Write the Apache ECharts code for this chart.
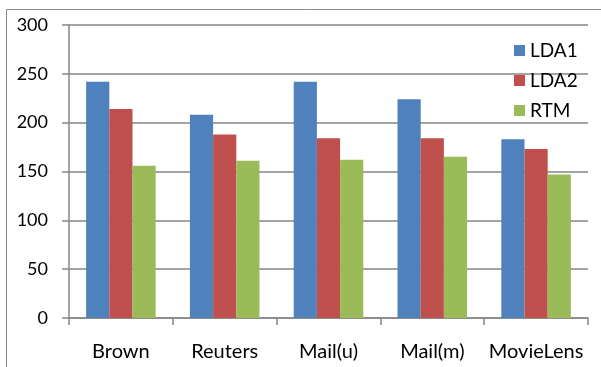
<!DOCTYPE html>
<html lang="en">
<head>
    <meta charset="UTF-8">
    <title>ECharts</title>
    <script src="https://cdn.jsdelivr.net/npm/echarts@6/dist/echarts.min.js"></script>
</head>
<body style="margin:0">
    <div id="main" style="width: 601px;height:367px;"></div>
    <script type="text/javascript">
    var categories = ['Brown', 'Reuters', 'Mail(u)', 'Mail(m)', 'MovieLens'];
    var seriesNames = ['LDA1', 'LDA2', 'RTM'];
    var lda1 = [242, 208, 242, 224, 183];
    var lda2 = [214, 188, 184, 184, 173];
    var rtm = [156, 161, 162, 165, 147];
    var colors = ['#4F81BD', '#C0504D', '#9BBB59'];

    var myChart = echarts.init(document.getElementById('main'));
    var font = 'Lato, "Open Sans", sans-serif';

    function bar(name, data, i) {
        return {
            name: name,
            type: 'bar',
            data: data,
            barGap: 0,
            barCategoryGap: '33%',
            itemStyle: {color: colors[i]}
        };
    }

    var option = {
        animation: false,
        textStyle: {fontFamily: font},
        graphic: [{
            type: 'rect',
            shape: {x: 6.5, y: 9.5, width: 700, height: 500},
            style: {fill: 'none', stroke: '#8c8c8c', lineWidth: 1},
            silent: true
        }],
        grid: {left: 69, right: 13, top: 25, bottom: 49},
        legend: {
            orient: 'vertical',
            left: 509,
            top: 36,
            itemWidth: 11,
            itemHeight: 11,
            itemGap: 11,
            icon: 'rect',
            textStyle: {fontFamily: font, fontSize: 19, color: '#000'},
            data: seriesNames
        },
        xAxis: {
            type: 'category',
            data: categories,
            axisLine: {lineStyle: {color: '#868686', width: 1.5}},
            axisTick: {show: true, length: 7, lineStyle: {color: '#868686', width: 1.5}},
            axisLabel: {color: '#000', fontSize: 20, margin: 24, interval: 0}
        },
        yAxis: {
            type: 'value',
            min: 0,
            max: 300,
            interval: 50,
            axisLine: {show: true, lineStyle: {color: '#868686', width: 1.5}},
            axisTick: {show: true, length: 7, lineStyle: {color: '#868686', width: 1.5}},
            axisLabel: {color: '#000', fontSize: 18, margin: 21},
            splitLine: {lineStyle: {color: '#868686', width: 1.5}}
        },
        series: [
            bar(seriesNames[0], lda1, 0),
            bar(seriesNames[1], lda2, 1),
            bar(seriesNames[2], rtm, 2)
        ]
    };
    myChart.setOption(option);
    </script>
</body>
</html>
